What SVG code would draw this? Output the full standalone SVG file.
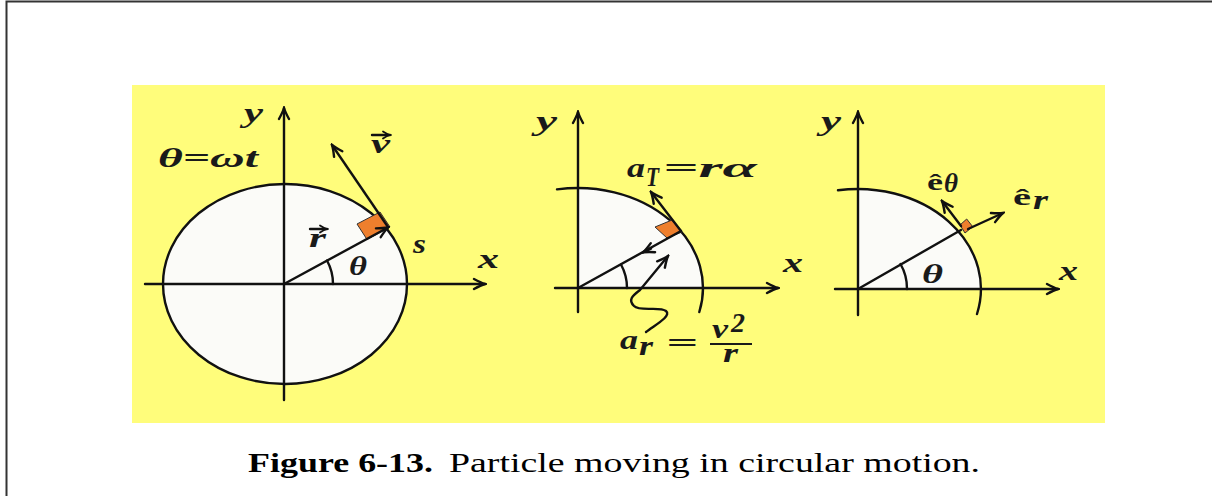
<svg xmlns="http://www.w3.org/2000/svg" width="1212" height="496" viewBox="0 0 1212 496">
<style>
.ln{fill:none;stroke:#111;stroke-width:2.4;stroke-linecap:round}
.m{font-family:"Liberation Serif","Times New Roman",serif;font-style:italic;font-weight:bold;fill:#1a1a1a;font-size:27px}
.u{font-family:"Liberation Serif","Times New Roman",serif;font-weight:bold;fill:#1a1a1a;font-size:24px}
.sq{fill:#ee7f2d;stroke:#333;stroke-width:1}
.cap{font-family:"Liberation Serif","Times New Roman",serif;fill:#000;font-size:28px}
</style>
<defs>
<marker id="ah" viewBox="-13 -7 15 14" markerWidth="15" markerHeight="14" refX="0" refY="0" orient="auto" markerUnits="userSpaceOnUse">
<path d="M-11,-5 Q-4,-1.2 0,0 Q-4,1.2 -11,5" fill="none" stroke="#111" stroke-width="2.4" stroke-linecap="round"/>
</marker>
<marker id="as" viewBox="-9 -5 11 10" markerWidth="11" markerHeight="10" refX="0" refY="0" orient="auto" markerUnits="userSpaceOnUse">
<path d="M-7,-3.5 Q-3,-0.8 0,0 Q-3,0.8 -7,3.5" fill="none" stroke="#111" stroke-width="1.8" stroke-linecap="round"/>
</marker>
</defs>
<rect x="0" y="0" width="1212" height="496" fill="#fff"/>
<path d="M6.5,496 V1.5 H1212" fill="none" stroke="#333" stroke-width="2"/>
<rect x="132" y="85" width="973" height="338" fill="#fffd7b"/>

<g id="panel-left">
<ellipse cx="285" cy="284" rx="122" ry="100" fill="#fbfbf8" stroke="#111" stroke-width="2.4"/>
<polygon class="sq" points="357,224 380,212 390,227 367,239.5"/>
<path class="ln" d="M333,284 A49,49 0 0 0 327,260.5"/>
</g>
<g id="panel-middle">
<path d="M578,288 L578,188 A125,100 0 0 1 703,288 Z" fill="#fbfbf8"/>
<path class="ln" d="M557,189.4 A125,100 0 0 1 699.3,312"/>
<polygon class="sq" points="655,227 672,220 682,232 667,238"/>
<path class="ln" d="M627,288 A49,49 0 0 0 621,264.5"/>
</g>
<g id="panel-right">
<path d="M858,289 L858,189 A123,100 0 0 1 981,289 Z" fill="#fbfbf8"/>
<path class="ln" d="M838,190.3 A123,100 0 0 1 977,314"/>
<polygon class="sq" points="960,225 966.7,219 972.7,226.7 965,233"/>
<path class="ln" d="M907,289 A49,49 0 0 0 900.5,264"/>
</g>

<g id="connectors">
<path class="ln" d="M145,284 H485" marker-end="url(#ah)"/>
<path class="ln" d="M284,400 V108" marker-end="url(#ah)"/>
<path class="ln" d="M284,284 L388,227.5" marker-end="url(#ah)"/>
<path class="ln" d="M388,227 L332,145" marker-end="url(#ah)"/>
<path class="ln" d="M372,135 H390" marker-end="url(#as)"/>
<path class="ln" d="M310,229 H327" marker-end="url(#as)"/>

<path class="ln" d="M555,288 H778" marker-end="url(#ah)"/>
<path class="ln" d="M578,312 V112" marker-end="url(#ah)"/>
<path class="ln" d="M578,288 L681,231"/>
<path class="ln" d="M681,231 L651,192" marker-end="url(#ah)"/>
<path class="ln" d="M651,248.6 L643,252.4" marker-end="url(#ah)"/>
<path class="ln" d="M646,332 C655,325 672,316 666,311 C660,306 640,312 634,306 C628,300 632,296 640,290 L668,256" marker-end="url(#ah)"/>

<path class="ln" d="M835,289 H1058" marker-end="url(#ah)"/>
<path class="ln" d="M858,315 V112" marker-end="url(#ah)"/>
<path class="ln" d="M858,289 L961,230"/>
<path class="ln" d="M968,229 L1003,213" marker-end="url(#ah)"/>
<path class="ln" d="M961,226 L942,201" marker-end="url(#ah)"/>
</g>

<g id="labels">
<text class="m" x="244" y="122" textLength="19" lengthAdjust="spacingAndGlyphs">y</text>
<text class="m" x="158" y="167" textLength="100" lengthAdjust="spacingAndGlyphs">θ=ωt</text>
<text class="m" x="371" y="153" textLength="19" lengthAdjust="spacingAndGlyphs">v</text>
<text class="m" x="309" y="247" textLength="17" lengthAdjust="spacingAndGlyphs">r</text>
<text class="m" x="413" y="253" textLength="13" lengthAdjust="spacingAndGlyphs">s</text>
<text class="m" x="349" y="275" textLength="18" lengthAdjust="spacingAndGlyphs">θ</text>
<text class="m" x="478" y="268" textLength="21" lengthAdjust="spacingAndGlyphs">x</text>

<text class="m" x="536" y="130" textLength="21" lengthAdjust="spacingAndGlyphs">y</text>
<text class="m" x="627" y="177" textLength="18" lengthAdjust="spacingAndGlyphs">a</text>
<text class="m" x="646" y="186" font-size="18" textLength="13" lengthAdjust="spacingAndGlyphs">T</text>
<text class="m" x="663" y="177" textLength="94" lengthAdjust="spacingAndGlyphs">=rα</text>
<text class="m" x="783" y="272" textLength="20" lengthAdjust="spacingAndGlyphs">x</text>
<text class="m" x="620" y="349" textLength="18" lengthAdjust="spacingAndGlyphs">a</text>
<text class="m" x="639" y="355" font-size="20" textLength="14" lengthAdjust="spacingAndGlyphs">r</text>
<text class="m" x="666" y="352" textLength="32" lengthAdjust="spacingAndGlyphs">=</text>
<text class="m" x="712" y="338" font-size="22" textLength="16" lengthAdjust="spacingAndGlyphs">v</text>
<text class="m" x="731" y="332" font-size="19" textLength="14" lengthAdjust="spacingAndGlyphs">2</text>
<path d="M710,344 H752" stroke="#1a1a1a" stroke-width="2"/>
<text class="m" x="723" y="362" font-size="22" textLength="15" lengthAdjust="spacingAndGlyphs">r</text>

<text class="m" x="821" y="130" textLength="20" lengthAdjust="spacingAndGlyphs">y</text>
<text class="u" x="927" y="190" textLength="16" lengthAdjust="spacingAndGlyphs">ê</text>
<text class="m" x="944" y="192" font-size="17" textLength="14" lengthAdjust="spacingAndGlyphs">θ</text>
<text class="u" x="1013" y="205" textLength="18" lengthAdjust="spacingAndGlyphs">ê</text>
<text class="m" x="1033" y="209" font-size="19" textLength="15" lengthAdjust="spacingAndGlyphs">r</text>
<text class="m" x="922" y="283" textLength="21" lengthAdjust="spacingAndGlyphs">θ</text>
<text class="m" x="1059" y="280" textLength="19" lengthAdjust="spacingAndGlyphs">x</text>
</g>

<g id="caption">
<text class="cap" x="248" y="472" font-weight="bold" textLength="185" lengthAdjust="spacingAndGlyphs">Figure 6-13.</text>
<text class="cap" x="449" y="472" textLength="531" lengthAdjust="spacingAndGlyphs">Particle moving in circular motion.</text>
</g>
</svg>
